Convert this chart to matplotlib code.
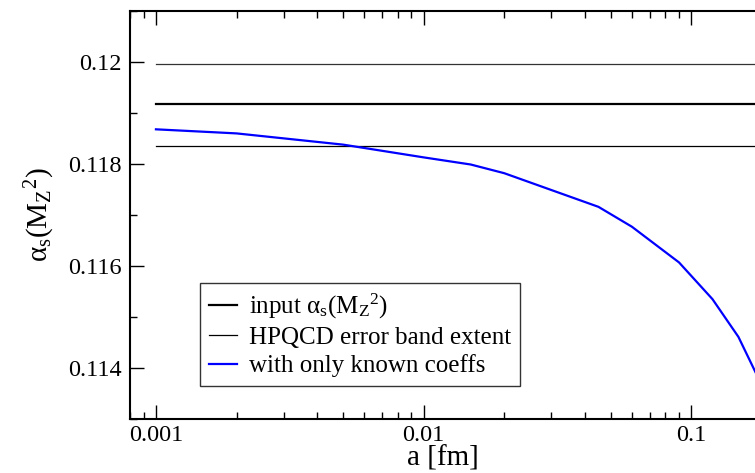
import matplotlib
matplotlib.use("Agg")
import matplotlib.pyplot as plt
from matplotlib.ticker import MultipleLocator, LogLocator, FixedLocator, FixedFormatter, NullFormatter

plt.rcParams['font.family'] = ['Liberation Serif', 'DejaVu Serif']
plt.rcParams['mathtext.fontset'] = 'custom'
plt.rcParams['mathtext.rm'] = 'Liberation Serif'
plt.rcParams['mathtext.it'] = 'Liberation Serif'

# data
a_vals = [0.001, 0.002, 0.005, 0.01, 0.015, 0.02, 0.045, 0.06, 0.09, 0.12, 0.15, 0.18]
alpha_known = [0.11868, 0.11860, 0.11838, 0.11813, 0.11799, 0.11782, 0.11716,
               0.11677, 0.11607, 0.11535, 0.11461, 0.11375]
input_alpha = 0.11917
band_low = 0.11836
band_high = 0.11997
line_x = [0.001, 0.2]

xticks = [0.001, 0.01, 0.1]
xticklabels = ['0.001', '0.01', '0.1']
yticks = [0.114, 0.116, 0.118, 0.12]
yticklabels = ['0.114', '0.116', '0.118', '0.12']

fig = plt.figure(figsize=(7.55, 4.73), dpi=100)
ax = fig.add_axes([130/755, 54/473, 1 - 130/755, (419-11)/473])

ax.plot(line_x, [input_alpha]*2, color='black', lw=1.6, label=r'input $\mathrm{\alpha_s(M_Z{}^2)}$')
ax.plot(line_x, [band_low]*2, color='black', lw=0.9, label='HPQCD error band extent')
ax.plot(line_x, [band_high]*2, color='#333333', lw=0.9)
ax.plot(a_vals, alpha_known, color='blue', lw=1.6, label='with only known coeffs')

ax.set_xscale('log')
ax.set_xlim(0.0008, 0.173)
ax.set_ylim(0.113, 0.121)

ax.xaxis.set_major_locator(FixedLocator(xticks))
ax.xaxis.set_major_formatter(FixedFormatter(xticklabels))
ax.xaxis.set_minor_locator(LogLocator(base=10, subs=range(2, 10)))
ax.xaxis.set_minor_formatter(NullFormatter())
ax.yaxis.set_major_locator(FixedLocator(yticks))
ax.yaxis.set_major_formatter(FixedFormatter(yticklabels))
ax.yaxis.set_minor_locator(MultipleLocator(0.001))

ax.tick_params(which='both', direction='in', top=True, right=False, labelsize=17.5, width=1.0)
ax.tick_params(which='major', length=10)
ax.tick_params(which='minor', length=5)
ax.tick_params(axis='x', pad=4)
ax.tick_params(axis='y', pad=6)

ax.spines['right'].set_visible(False)
for s in ['left', 'top', 'bottom']:
    ax.spines[s].set_linewidth(1.5)

ax.set_xlabel('a [fm]', fontsize=21, labelpad=0)
ax.set_ylabel(r'$\mathrm{\alpha_s(M_Z{}^2)}$', fontsize=21, labelpad=8)

leg = ax.legend(loc='upper left', bbox_to_anchor=((200-130)/625, (419-283)/408),
                fontsize=18, frameon=True, fancybox=False, edgecolor='black',
                handlelength=1.12, handletextpad=0.5, borderpad=0.35, labelspacing=0.22,
                borderaxespad=0)
leg.get_frame().set_linewidth(1.0)

fig.savefig('out.png', dpi=100)
